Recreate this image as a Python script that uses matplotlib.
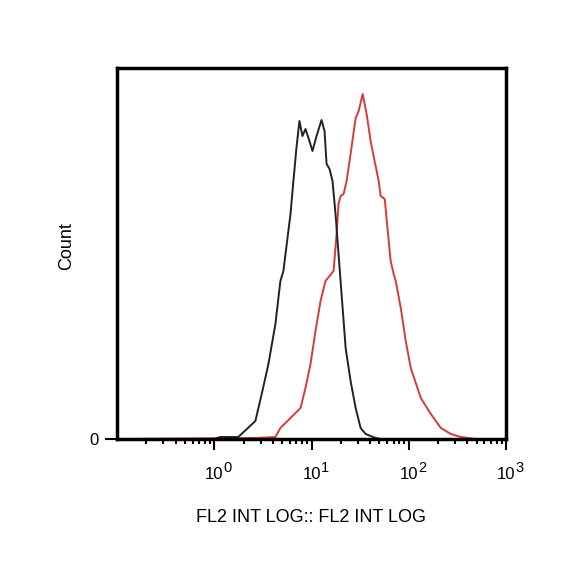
import numpy as np
import matplotlib
matplotlib.use('Agg')
import matplotlib.pyplot as plt
from matplotlib.ticker import FixedLocator, FixedFormatter, NullFormatter

plt.rcParams['font.family'] = ['Liberation Sans', 'DejaVu Sans']

# log10 of FL2 intensity and counts
ctrl_log = [-1.0, 0.0, 0.062, 0.247, 0.423, 0.495, 0.557, 0.629, 0.680, 0.711,
            0.784, 0.814, 0.845, 0.876, 0.907, 0.938, 0.969, 1.010, 1.052,
            1.103, 1.134, 1.155, 1.186, 1.216, 1.247, 1.278, 1.299, 1.320,
            1.351, 1.402, 1.454, 1.505, 1.557, 1.660, 1.711]
ctrl_count = [0, 0, 2, 2, 18, 48, 75, 115, 158, 168,
              225, 258, 291, 318, 303, 310, 301, 288, 303,
              319, 308, 275, 270, 258, 225, 185, 158, 131,
              91, 58, 31, 11, 5, 1, 0]

stain_log = [-1.0, 0.423, 0.629, 0.680, 0.784, 0.887, 0.938, 0.990, 1.041,
             1.093, 1.144, 1.227, 1.258, 1.278, 1.299, 1.330, 1.361, 1.402,
             1.454, 1.485, 1.526, 1.567, 1.608, 1.649, 1.691, 1.711, 1.753,
             1.784, 1.814, 1.845, 1.866, 1.918, 1.969, 2.021, 2.124, 2.227,
             2.330, 2.433, 2.536, 2.691, 3.0]
stain_count = [0, 1, 2, 11, 21, 31, 51, 75, 108,
               138, 158, 168, 205, 235, 243, 245, 258, 285,
               321, 328, 345, 325, 298, 278, 258, 243, 240,
               208, 178, 165, 158, 131, 98, 71, 41, 25,
               11, 5, 2, 0, 0]

major_ticks = [1, 10, 100, 1000]
major_exps = ['0', '1', '2', '3']
minor_ticks = [m * 10.0 ** e for e in range(-1, 3) for m in range(2, 10)]

fig = plt.figure(figsize=(5.84, 5.84), dpi=100)
ax = fig.add_axes([117 / 584, 1 - 439 / 584, 389 / 584, 371 / 584])

ax.plot(10 ** np.array(stain_log), stain_count, color='#d63a3a', lw=1.4)
ax.plot(10 ** np.array(ctrl_log), ctrl_count, color='#222222', lw=1.4)

ax.set_xscale('log')
ax.set_xlim(0.1, 1000)
ax.set_ylim(0, 371)

ax.xaxis.set_major_locator(FixedLocator(major_ticks))
ax.xaxis.set_major_formatter(FixedFormatter(['10'] * len(major_ticks)))
ax.xaxis.set_minor_locator(FixedLocator(minor_ticks))
ax.xaxis.set_minor_formatter(NullFormatter())
ax.tick_params(axis='x', which='major', direction='out', length=8, width=1.5,
               labelsize=12, pad=12)
ax.tick_params(axis='x', which='minor', direction='out', length=3.6, width=1.5)

# exponents of the decade labels
for t, e in zip(major_ticks, major_exps):
    ax.annotate(e, xy=(t, 0), xycoords=('data', 'axes fraction'),
                xytext=(6.5, -21), textcoords='offset points',
                fontsize=10.5, ha='left', va='center')

ax.set_yticks([0])
ax.set_yticklabels(['0'])
ax.tick_params(axis='y', which='major', direction='out', length=8.5, width=1.5,
               labelsize=12, pad=5)

for s in ax.spines.values():
    s.set_linewidth(2.5)

ax.set_xlabel('FL2 INT LOG:: FL2 INT LOG', fontsize=13)
ax.xaxis.set_label_coords(0.5, -0.19)
ax.set_ylabel('Count', fontsize=13)
ax.yaxis.set_label_coords(-0.108, 0.52)

fig.savefig('out.png', dpi=100)
